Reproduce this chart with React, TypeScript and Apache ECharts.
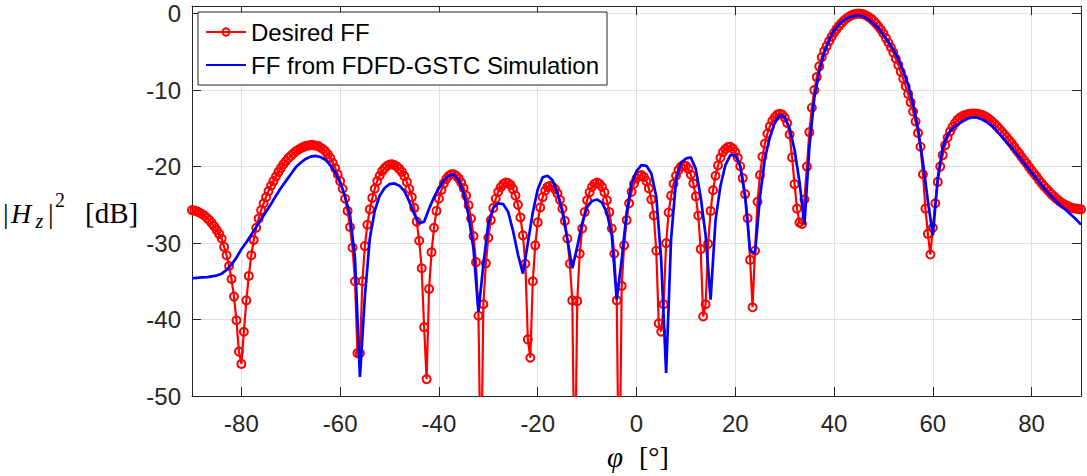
import React, { useEffect, useRef } from "react";
import * as echarts from "echarts";

// Angle grid of the two curves (degrees)
const PHI_MIN = -90;
const PHI_MAX = 90;
const DESIRED_STEP = 0.5;
const SIM_STEP = 1;

const X_TICKS = [-80, -60, -40, -20, 0, 20, 40, 60, 80];
const Y_TICKS = [-50, -40, -30, -20, -10, 0];

const SERIES_NAMES = ["Desired FF", "FF from FDFD-GSTC Simulation"];

// Desired far field |Hz|^2 [dB], phi = -90 ... 90 every 0.5 deg (rows of 5 deg)
const desiredFF = [
  -25.7, -25.75, -25.85, -26.0, -26.2, -26.4, -26.7, -27.0, -27.4, -27.8,
  -28.3, -28.8, -29.4, -30.5, -31.6, -33.0, -34.7, -37.0, -40.1, -44.2,
  -45.8, -41.6, -37.5, -34.3, -31.6, -29.6, -28.0, -26.8, -25.7, -24.8,
  -24.0, -23.2, -22.5, -21.9, -21.3, -20.7, -20.2, -19.7, -19.3, -18.9,
  -18.6, -18.3, -18.0, -17.8, -17.6, -17.45, -17.3, -17.25, -17.2, -17.2,
  -17.25, -17.3, -17.5, -17.7, -18.0, -18.4, -18.9, -19.5, -20.2, -21.0,
  -21.9, -22.9, -24.2, -25.8, -27.9, -30.6, -35.0, -44.4, -44.4, -35.0,
  -30.4, -27.6, -25.6, -24.1, -22.9, -21.9, -21.2, -20.6, -20.2, -19.9,
  -19.75, -19.7, -19.8, -20.0, -20.3, -20.7, -21.25, -22.0, -22.9, -24.0,
  -25.4, -27.2, -29.7, -33.3, -41.0, -47.8, -36.0, -31.2, -28.0, -25.8,
  -24.2, -23.05, -22.2, -21.6, -21.2, -21.0, -21.0, -21.2, -21.55, -22.1,
  -22.8, -23.8, -25.05, -26.8, -29.1, -32.5, -39.5, -62.0, -38.0, -32.65,
  -29.3, -27.0, -25.4, -24.2, -23.3, -22.7, -22.3, -22.1, -22.15, -22.4,
  -22.95, -23.8, -25.0, -26.65, -29.0, -32.7, -42.6, -45.0, -35.0, -30.3,
  -27.3, -25.35, -24.0, -23.15, -22.65, -22.5, -22.6, -22.95, -23.5, -24.35,
  -25.5, -27.1, -29.4, -32.7, -37.5, -64.0, -37.6, -31.4, -28.1, -25.95,
  -24.4, -23.35, -22.65, -22.25, -22.1, -22.25, -22.65, -23.35, -24.4, -25.95,
  -28.1, -31.4, -37.5, -66.0, -35.6, -30.3, -27.0, -24.8, -23.3, -22.25,
  -21.56, -21.2, -21.1, -21.35, -21.9, -22.85, -24.3, -26.4, -31.0, -40.5,
  -41.6, -38.0, -30.0, -26.0, -23.8, -22.25, -21.2, -20.45, -20.0, -19.8,
  -19.9, -20.3, -21.05, -22.2, -23.9, -26.4, -30.8, -39.6, -38.0, -30.1,
  -25.8, -23.1, -21.2, -19.85, -18.85, -18.1, -17.7, -17.45, -17.4, -17.65,
  -18.1, -18.85, -19.95, -21.5, -23.6, -26.75, -32.2, -38.4, -31.0, -24.6,
  -21.1, -18.7, -17.0, -15.7, -14.75, -14.0, -13.55, -13.2, -13.1, -13.2,
  -13.6, -14.3, -15.8, -18.8, -22.3, -25.5, -27.3, -27.5, -24.3, -20.0,
  -15.5, -12.3, -10.0, -8.3, -6.9, -5.7, -4.9, -4.25, -3.6, -3.03,
  -2.5, -2.03, -1.6, -1.23, -0.9, -0.63, -0.4, -0.23, -0.1, -0.03,
  0.0, -0.03, -0.1, -0.24, -0.42, -0.66, -0.95, -1.3, -1.7, -2.1,
  -2.6, -3.2, -3.8, -4.4, -5.1, -5.9, -6.7, -7.6, -8.5, -9.5,
  -10.5, -11.6, -12.8, -14.1, -15.6, -17.4, -21.0, -25.5, -28.8, -31.5,
  -28.0, -24.8, -22.0, -20.0, -18.5, -17.2, -16.2, -15.4, -14.8, -14.3,
  -13.9, -13.6, -13.4, -13.25, -13.15, -13.1, -13.05, -13.05, -13.1, -13.15,
  -13.25, -13.4, -13.6, -13.85, -14.1, -14.4, -14.75, -15.1, -15.45, -15.8,
  -16.2, -16.6, -17.0, -17.45, -17.9, -18.3, -18.75, -19.2, -19.6, -20.05,
  -20.5, -20.9, -21.3, -21.75, -22.15, -22.55, -22.9, -23.25, -23.6, -23.9,
  -24.2, -24.45, -24.7, -24.9, -25.05, -25.2, -25.35, -25.45, -25.5, -25.55,
  -25.6,
];

// FDFD-GSTC simulated far field [dB], phi = -90 ... 90 every 1 deg (rows of 10 deg)
const simulatedFF = [
  -34.6, -34.55, -34.5, -34.45, -34.35, -34.25, -34.0, -33.5, -32.8, -31.9,
  -30.8, -29.9, -28.9, -27.9, -26.9, -25.9, -24.9, -23.8, -22.8, -21.9,
  -21.0, -20.1, -19.5, -19.0, -18.7, -18.6, -18.75, -19.1, -19.8, -20.8,
  -22.1, -23.9, -26.4, -32.0, -47.5, -37.0, -29.4, -25.8, -23.8, -22.8,
  -22.3, -22.2, -22.5, -23.2, -24.6, -26.2, -27.4, -27.2, -25.5, -24.0,
  -22.8, -21.8, -21.2, -21.0, -21.8, -23.5, -26.4, -30.8, -39.0, -32.8,
  -27.4, -25.4, -24.8, -24.9, -25.9, -28.4, -31.5, -34.0, -30.0, -26.0,
  -23.0, -21.4, -21.2, -21.8, -23.5, -25.9, -29.5, -33.3, -30.5, -27.4,
  -25.3, -24.5, -24.3, -24.7, -26.0, -29.0, -37.4, -32.2, -26.0, -22.2,
  -20.6, -19.8, -19.9, -20.9, -23.9, -32.2, -47.0, -29.5, -21.8, -19.5,
  -18.95, -18.8, -20.3, -24.0, -29.0, -37.4, -27.0, -22.5, -19.8, -18.5,
  -18.5, -19.9, -24.0, -31.0, -31.3, -24.0, -18.9, -16.2, -14.2, -13.3,
  -13.5, -15.0, -17.8, -22.0, -27.6, -17.5, -11.0, -7.6, -5.1, -3.4,
  -2.2, -1.4, -0.85, -0.5, -0.3, -0.25, -0.4, -0.8, -1.3, -1.9,
  -2.8, -3.7, -4.7, -5.9, -7.5, -9.3, -11.8, -15.0, -19.5, -24.5,
  -29.0, -21.5, -17.5, -15.8, -15.0, -14.5, -14.1, -13.75, -13.55, -13.6,
  -13.85, -14.2, -14.7, -15.35, -16.1, -16.85, -17.6, -18.4, -19.2, -20.0,
  -20.8, -21.6, -22.4, -23.2, -23.9, -24.6, -25.2, -25.7, -26.3, -26.9,
  -27.6,
];

const SANS = "'Liberation Sans', Arial, Helvetica, sans-serif";
const SERIF = "'Liberation Serif', 'Times New Roman', serif";
const AXIS_COLOR = "#262626";
const GRID_COLOR = "#e1e1e1";

export default function App() {
  const ref = useRef<HTMLDivElement>(null);

  useEffect(() => {
    document.body.style.margin = "0";
    if (!ref.current) return;
    const chart = echarts.init(ref.current, undefined, { renderer: "svg" });

    const desiredData = desiredFF.map((v, i) => [PHI_MIN + i * DESIRED_STEP, v]);
    const simData = simulatedFF.map((v, i) => [PHI_MIN + i * SIM_STEP, v]);

    const xFmt = (v: number) => (X_TICKS.indexOf(v) >= 0 ? String(v) : "");
    const yFmt = (v: number) => (Y_TICKS.indexOf(v) >= 0 ? String(v) : "");

    const baseX = {
      type: "value",
      min: PHI_MIN,
      max: PHI_MAX,
      splitNumber: 9,
      axisLine: { show: true, onZero: false, lineStyle: { color: AXIS_COLOR, width: 1 } },
      axisTick: { show: true, inside: true, length: 9, lineStyle: { color: AXIS_COLOR, width: 1 } },
    };
    const baseY = {
      type: "value",
      min: Y_TICKS[0],
      max: 1,
      interval: 10,
      axisLine: { show: true, onZero: false, lineStyle: { color: AXIS_COLOR, width: 1 } },
      axisTick: { show: true, inside: true, length: 9, lineStyle: { color: AXIS_COLOR, width: 1 } },
    };

    const txt = (x: number, y: number, text: string, size: number, italic = false) => ({
      type: "text",
      x,
      y,
      z: 10,
      style: {
        text,
        fontSize: size,
        fontStyle: italic ? "italic" : "normal",
        fontFamily: SERIF,
        fill: "#000",
        verticalAlign: "middle",
      },
    });

    const option: any = {
      animation: false,
      backgroundColor: "#ffffff",
      grid: { left: 192, right: 6, top: 6, bottom: 80, containLabel: false },
      xAxis: [
        {
          ...baseX,
          position: "bottom",
          axisLabel: {
            formatter: xFmt,
            fontSize: 24,
            fontFamily: SANS,
            color: AXIS_COLOR,
            margin: 15,
          },
          splitLine: { show: true, lineStyle: { color: GRID_COLOR, width: 1 } },
        },
        {
          ...baseX,
          position: "top",
          axisLabel: { show: false },
          splitLine: { show: false },
        },
      ],
      yAxis: [
        {
          ...baseY,
          position: "left",
          axisLabel: {
            formatter: yFmt,
            fontSize: 24,
            fontFamily: SANS,
            color: AXIS_COLOR,
            margin: 11,
          },
          splitLine: { show: true, lineStyle: { color: GRID_COLOR, width: 1 } },
        },
        {
          ...baseY,
          position: "right",
          axisLabel: { show: false },
          splitLine: { show: false },
        },
      ],
      legend: {
        left: 198,
        top: 12,
        orient: "vertical",
        padding: [7, 8, 7, 7],
        itemGap: 7,
        itemWidth: 40,
        itemHeight: 9,
        backgroundColor: "#ffffff",
        borderColor: AXIS_COLOR,
        borderWidth: 1,
        borderRadius: 0,
        textStyle: { fontSize: 24, fontFamily: SANS, color: "#000000", lineHeight: 26 },
        data: [
          { name: SERIES_NAMES[0] },
          { name: SERIES_NAMES[1], itemStyle: { opacity: 0, color: "rgba(0,0,0,0)", borderWidth: 0 } },
        ],
      },
      series: [
        {
          name: SERIES_NAMES[0],
          type: "line",
          xAxisIndex: 0,
          yAxisIndex: 0,
          data: desiredData,
          symbol: "circle",
          symbolSize: 8,
          showSymbol: true,
          showAllSymbol: true,
          clip: true,
          lineStyle: { color: "#ff0000", width: 2.2 },
          itemStyle: { color: "rgba(255,255,255,0)", borderColor: "#ff0000", borderWidth: 2 },
          emphasis: { disabled: true },
          z: 2,
        },
        {
          name: SERIES_NAMES[1],
          type: "line",
          xAxisIndex: 0,
          yAxisIndex: 0,
          data: simData,
          showSymbol: false,
          symbol: "none",
          clip: true,
          lineStyle: { color: "#0000ff", width: 2.7 },
          itemStyle: { color: "#0000ff" },
          emphasis: { disabled: true },
          z: 3,
        },
      ],
      graphic: [
        txt(3, 213, "|", 28),
        txt(11, 213, "H", 28, true),
        txt(35.5, 221, "z", 20, true),
        txt(48, 213, "|", 28),
        txt(55, 200, "2", 20),
        txt(85, 213, "[dB]", 29),
        txt(607, 457, "\u03c6", 29, true),
        txt(639, 456, "[\u00b0]", 28),
      ],
    };

    chart.setOption(option);
    return () => chart.dispose();
  }, []);

  return <div ref={ref} style={{ width: 1087, height: 476 }} />;
}
